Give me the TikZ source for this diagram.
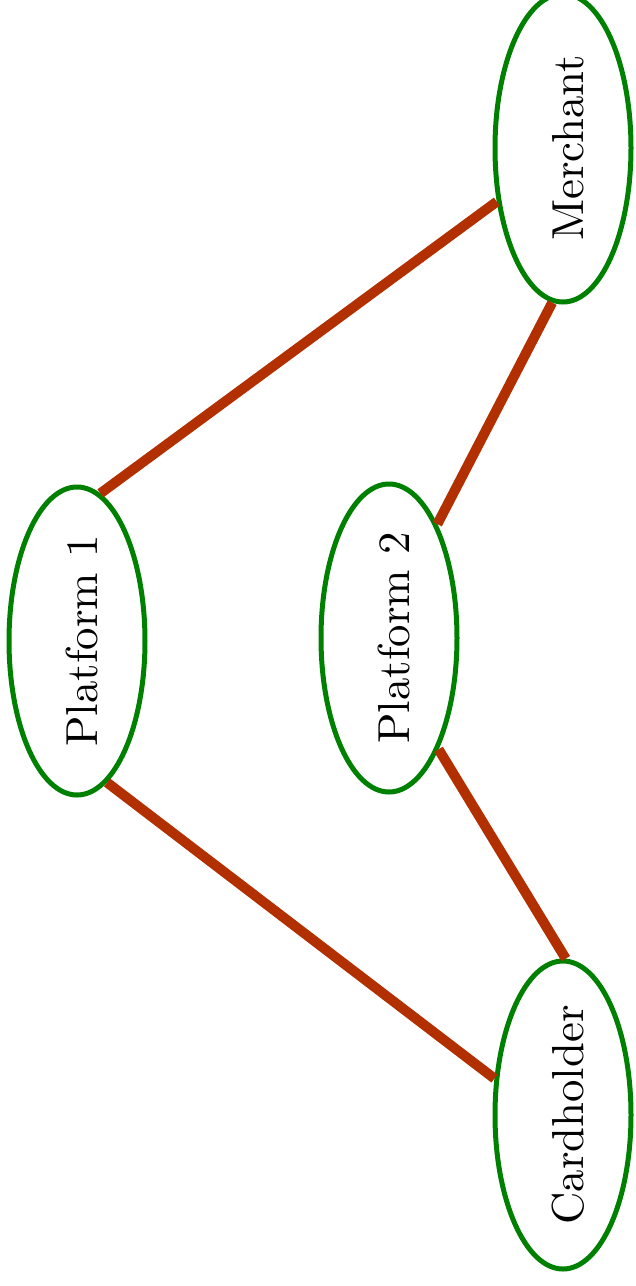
\documentclass[tikz,border=0pt]{standalone}
\usepackage{fontspec}
\usetikzlibrary{shapes.geometric}
\newfontfamily\partyfont{lmroman10-regular.otf}
\definecolor{partygreen}{RGB}{0,128,0}
\definecolor{linkred}{RGB}{178,48,0}

\begin{document}
\begin{tikzpicture}[x=0.5pt,y=-0.5pt,
    party/.style={ellipse,draw=partygreen,line width=2.5pt,inner sep=0pt,
      minimum width=68pt,minimum height=154pt,
      label={[rotate=90,text height=21pt,font=\partyfont\fontsize{22.4}{27}\selectfont]center:#1}},
    link/.style={draw=linkred,line width=5pt}]
  \useasboundingbox (0,0) rectangle (636,1286);
  \node[party=Merchant] (merchant) at (563,148) {};
  \node[party=Platform 1] (plat1) at (77,641) {};
  \node[party=Platform 2] (plat2) at (389,638) {};
  \node[party=Cardholder] (card) at (563,1115) {};
  \draw[link] (plat1.81) -- (merchant.219);
  \draw[link] (plat2.67) -- (merchant.266);
  \draw[link] (plat1.282) -- (card.152);
  \draw[link] (plat2.294) -- (card.89);
\end{tikzpicture}
\end{document}
